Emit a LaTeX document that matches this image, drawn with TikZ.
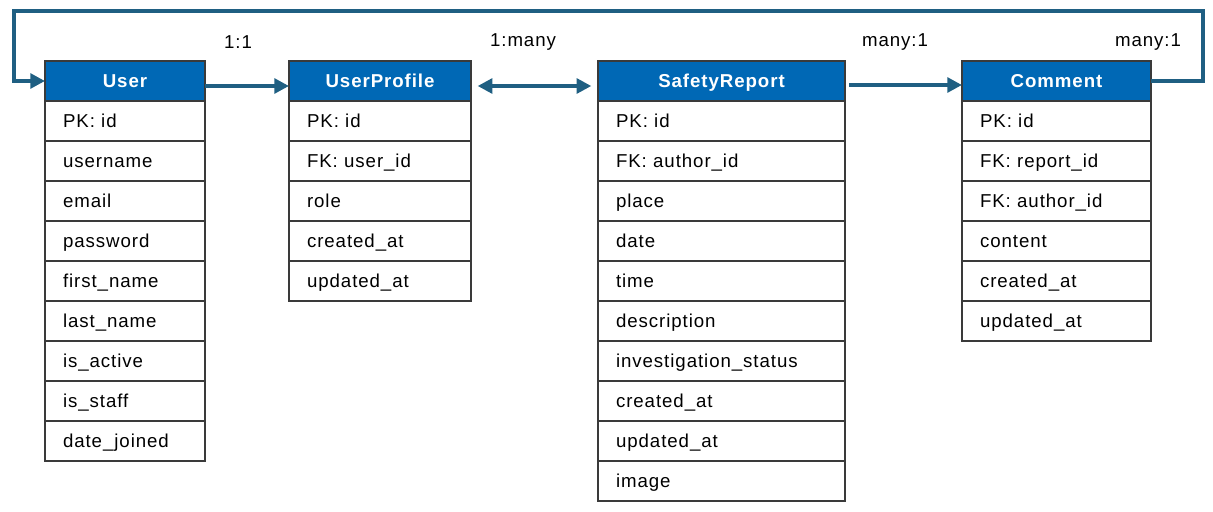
\documentclass[tikz,border=0pt]{standalone}
\usepackage{fontspec}
\setmainfont{Liberation Sans}[LetterSpace=5]
\usetikzlibrary{arrows.meta,calc}
\definecolor{hdrblue}{HTML}{0068B5}
\definecolor{arrblue}{HTML}{1F5F82}
\definecolor{bordergray}{HTML}{3A3A3A}
\newcommand\ertable[5]{%
  \node[hdr, minimum width=#3, anchor=north west, alias=#1-0] (#1) at (#2) {#4};
  \foreach \t [count=\i, remember=\i as \j (initially 0)] in {#5} {
    \node[rowbox, text width=#3-27pt, anchor=north west] (#1-\i) at (#1-\j.south west) {\t};
  }%
}
\begin{document}
\begin{tikzpicture}[x=0.75pt,y=-0.75pt,
  hdr/.style={draw=bordergray, line width=1.5pt, fill=hdrblue, text=white,
    font=\fontsize{14pt}{16pt}\selectfont\bfseries, minimum height=30pt, inner sep=0pt,
    outer sep=0pt, text height=11.5pt, text depth=2pt},
  rowbox/.style={draw=bordergray, line width=1.5pt, fill=white, minimum height=30pt,
    inner xsep=13.5pt, inner ysep=0pt, align=left, outer sep=0pt,
    text height=11.5pt, text depth=2pt,
    font=\fontsize{14pt}{16pt}\selectfont},
  arr/.style={draw=arrblue, line width=3pt, -{Triangle[length=11pt,width=11pt]}},
  lbl/.style={font=\fontsize{14pt}{16pt}\selectfont, inner sep=0pt}]
\useasboundingbox (0,0) rectangle (1213,511);
\ertable{user}{45,61}{120pt}{User}{PK: id,username,email,password,first\_name,last\_name,is\_active,is\_staff,date\_joined}
\ertable{prof}{289,61}{136.5pt}{UserProfile}{PK: id,FK: user\_id,role,created\_at,updated\_at}
\ertable{rep}{598,61}{185.25pt}{SafetyReport}{PK: id,FK: author\_id,place,date,time,description,investigation\_status,created\_at,updated\_at,image}
\ertable{com}{962,61}{141.75pt}{Comment}{PK: id,FK: report\_id,FK: author\_id,content,created\_at,updated\_at}
% connectors
\draw[arr] ([yshift=-3.75pt]user.east) -- ([yshift=-3.75pt]prof.west);
\draw[arr, {Triangle[length=11pt,width=11pt]}-{Triangle[length=11pt,width=11pt]}, shorten <=5pt, shorten >=5pt] ([yshift=-3.75pt]prof.east) -- ([yshift=-3.75pt]rep.west);
\draw[arr, shorten <=3pt] ([yshift=-3pt]rep.east) -- ([yshift=-3pt]com.west);
\coordinate (lpR) at (1203,11);
\coordinate (lpL) at (13.5,11);
\draw[arr, line join=miter] (com.east) -- (com.east -| lpR) -- (lpR) -- (lpL) -- (lpL |- user.west) -- (user.west);
% labels
\node[lbl] (l1) at (238,42) {1:1};
\node[lbl] (l2) at (523,42) {1:many};
\node[lbl] (l3) at (895,42) {many:1};
\node[lbl] (l4) at (1148,42) {many:1};
\end{tikzpicture}
\end{document}
